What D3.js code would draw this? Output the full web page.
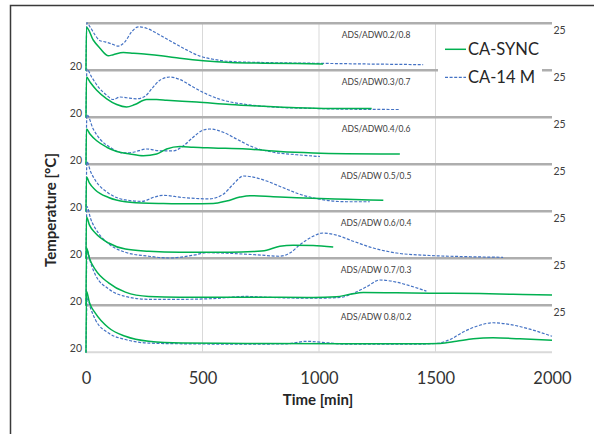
<!DOCTYPE html>
<html>
<head>
<meta charset="utf-8">
<script src="https://cdn.jsdelivr.net/npm/d3@7"></script>
<style>
  body { margin: 0; background: #fff; }
  svg { display: block; font-family: Lato, Calibri, sans-serif; }
</style>
</head>
<body>
<script>
// values: [time min, temperature °C]
const labels = ["ADS/ADW0.2/0.8", "ADS/ADW0.3/0.7", "ADS/ADW0.4/0.6", "ADS/ADW 0.5/0.5",
                "ADS/ADW 0.6/0.4", "ADS/ADW 0.7/0.3", "ADS/ADW 0.8/0.2"];
const xTicks = [0, 500, 1000, 1500, 2000];
const seriesNames = ["CA-SYNC", "CA-14 M"];

const sync1 = [[0,19.3],[2,25.4],[31,23.6],[60,22.45],[96,21.4],[117,21.55],[160,21.85],[203,21.75],[260,21.6],[332,21.35],[403,21.05],[503,20.7],[618,20.45],[761,20.35],[904,20.3],[1018,20.25]];
const cm1 = [[0,19.3],[4,26.0],[17,25.45],[39,24.3],[60,23.5],[82,23.35],[110,23.05],[139,22.75],[167,23.35],[196,24.75],[225,25.45],[260,25.25],[303,24.55],[360,23.5],[418,22.45],[489,21.35],[546,20.9],[618,20.6],[761,20.45],[975,20.35],[1190,20.25],[1447,20.15]];

const sync2 = [[0,19.3],[2,25.0],[17,24.3],[46,23.15],[89,21.95],[132,21.15],[174,20.8],[210,21.15],[260,21.85],[303,21.85],[346,21.75],[475,21.5],[618,21.15],[761,20.9],[904,20.7],[1047,20.6],[1226,20.6]];
const cm2 = [[0,19.3],[4,26.1],[24,25.0],[53,23.6],[89,22.45],[117,21.85],[146,22.2],[174,22.1],[217,21.95],[253,22.3],[282,23.35],[317,24.55],[360,25.0],[403,24.65],[460,23.6],[518,22.6],[589,21.75],[689,21.15],[832,20.75],[975,20.6],[1118,20.5],[1347,20.45]];

const sync3 = [[0,19.3],[2,24.3],[17,23.6],[46,22.65],[89,21.75],[132,21.15],[189,20.8],[246,20.55],[303,20.8],[346,21.5],[403,21.85],[460,21.75],[546,21.65],[689,21.5],[832,21.15],[975,20.95],[1118,20.85],[1347,20.8]];
const cm3 = [[0,19.3],[4,26.3],[31,24.3],[60,22.9],[103,21.75],[160,20.95],[203,21.05],[260,21.5],[317,21.25],[375,21.25],[418,21.95],[460,23.15],[503,24.15],[532,24.3],[589,23.85],[646,22.9],[718,21.75],[804,21.05],[904,20.7],[1004,20.45]];

const sync4 = [[0,19.3],[2,24.15],[15,23.3],[40,22.35],[97,21.3],[169,20.7],[269,20.48],[332,20.45],[446,20.4],[546,20.45],[603,20.8],[661,21.35],[704,21.55],[804,21.4],[904,21.25],[1004,21.15],[1118,21.05],[1276,20.9]];
const cm4 = [[0,19.3],[4,26.3],[20,24.9],[40,23.7],[97,21.9],[169,20.95],[240,20.75],[289,21.3],[330,21.6],[412,21.3],[528,21.1],[589,21.75],[632,23.15],[675,24.3],[718,24.15],[775,23.6],[847,22.65],[918,21.75],[1004,21.05],[1118,20.7],[1218,20.7]];

const sync5 = [[0,19.3],[2,25.15],[15,24.0],[40,22.9],[97,21.5],[169,20.65],[269,20.35],[403,20.2],[618,20.2],[718,20.3],[775,20.5],[832,21.05],[889,21.2],[975,21.15],[1061,20.95]];
const cm5 = [[0,19.3],[4,26.6],[20,24.9],[53,22.9],[97,21.4],[169,20.2],[269,19.65],[355,19.4],[469,19.85],[518,20.15],[618,20.05],[732,19.85],[832,19.65],[875,20.1],[918,21.25],[975,22.45],[1018,22.9],[1075,22.6],[1147,21.75],[1233,20.8],[1333,20.1],[1476,19.75],[1619,19.6],[1790,19.5]];

const sync6 = [[0,19.3],[2,27.4],[15,25.9],[40,24.35],[97,22.5],[169,21.2],[269,20.6],[403,20.5],[689,20.5],[975,20.45],[1075,20.55],[1133,20.9],[1190,21.15],[1333,21.1],[1476,21.05],[1690,21.0],[1833,20.9],[2000,20.8]];
const cm6 = [[0,19.3],[5,27.0],[20,25.3],[40,23.65],[97,21.65],[169,20.6],[269,20.2],[403,20.2],[546,20.3],[689,20.6],[804,20.45],[975,20.35],[1090,20.45],[1147,21.05],[1204,21.95],[1261,22.9],[1333,22.6],[1404,21.95],[1461,21.35]];

const sync7 = [[0,19.3],[2,27.9],[15,26.3],[40,24.85],[97,22.8],[169,21.6],[269,20.9],[412,20.65],[689,20.6],[1118,20.55],[1404,20.55],[1519,20.6],[1590,20.9],[1662,21.25],[1747,21.4],[1862,21.25],[2000,21.05]];
const cm7 = [[0,19.3],[5,27.0],[20,25.5],[40,23.95],[97,22.05],[169,21.15],[269,20.65],[412,20.55],[689,20.5],[861,20.55],[947,20.9],[1032,20.7],[1118,20.5],[1404,20.5],[1504,20.6],[1562,21.15],[1619,22.2],[1690,23.15],[1747,23.5],[1819,23.25],[1905,22.6],[2000,21.6]];

const syncAll = [sync1, sync2, sync3, sync4, sync5, sync6, sync7];
const cmAll = [cm1, cm2, cm3, cm4, cm5, cm6, cm7];

const width = 594, height = 434;
const top0 = 23.3, panelH = 47;
const green = "#00b050", blue = "#4472c4";
const font = "Lato, Calibri, sans-serif";

const svg = d3.select("body").append("svg")
    .attr("width", width).attr("height", height);

// outer frame
svg.append("rect")
    .attr("x", 10.5).attr("y", 5.5)
    .attr("width", 620).attr("height", 460)
    .attr("fill", "none").attr("stroke", "#3a3a3a").attr("stroke-width", 1.5);

const x = d3.scaleLinear().domain([0, 2000]).range([86, 552]);
const bottom = top0 + panelH * labels.length;

// vertical gridlines
svg.append("g").selectAll("line")
  .data(xTicks.filter(d => d > 0 && d < 2000))
  .join("line")
    .attr("x1", d => x(d)).attr("x2", d => x(d))
    .attr("y1", top0).attr("y2", bottom)
    .attr("stroke", "#d9d9d9").attr("stroke-width", 1);

// bottom axis line
svg.append("line")
    .attr("x1", x(0)).attr("x2", x(2000))
    .attr("y1", bottom).attr("y2", bottom)
    .attr("stroke", "#d9d9d9").attr("stroke-width", 2);

// panel separators
svg.append("g").selectAll("line")
  .data(d3.range(labels.length))
  .join("line")
    .attr("x1", x(0)).attr("x2", x(2000))
    .attr("y1", i => top0 + i * panelH).attr("y2", i => top0 + i * panelH)
    .attr("stroke", "#aeaeae").attr("stroke-width", 2.6);

labels.forEach((lab, i) => {
  const t = top0 + i * panelH;
  const y = d3.scaleLinear().domain([19.36, 25.94]).range([t + panelH, t]);
  const g = svg.append("g");

  g.append("g")
      .attr("transform", `translate(${x(0)},0)`)
      .call(d3.axisLeft(y).tickValues([20]).tickFormat(d3.format("d")).tickSize(0).tickPadding(4))
      .call(a => a.select(".domain").remove())
      .selectAll("text").attr("font-size", 10.5).attr("fill", "#404040")
      .attr("font-family", font);

  g.append("g")
      .attr("transform", `translate(${x(2000)},0)`)
      .call(d3.axisRight(y).tickValues([25]).tickFormat(d3.format("d")).tickSize(0).tickPadding(1.5))
      .call(a => a.select(".domain").remove())
      .selectAll("text").attr("font-size", 10.5).attr("fill", "#404040")
      .attr("font-family", font);

  g.append("text")
      .attr("x", x(1245)).attr("y", t + 15)
      .attr("text-anchor", "middle")
      .attr("font-size", 8.5).attr("fill", "#404040")
      .text(lab);

  const line = d3.line()
      .x(d => x(d[0])).y(d => y(d[1]))
      .curve(d3.curveMonotoneX);

  g.append("path")
      .datum(cmAll[i])
      .attr("d", line)
      .attr("fill", "none").attr("stroke", blue)
      .attr("stroke-width", 1.2).attr("stroke-dasharray", "3,1.6");

  g.append("path")
      .datum(syncAll[i])
      .attr("d", line)
      .attr("fill", "none").attr("stroke", green)
      .attr("stroke-width", 1.5);
});

// x axis
svg.append("g")
    .attr("transform", `translate(0,${bottom})`)
    .call(d3.axisBottom(x).tickValues(xTicks).tickFormat(d3.format("d")).tickSize(0).tickPadding(20))
    .call(a => a.select(".domain").remove())
    .selectAll("text").attr("font-size", 16.5).attr("fill", "#333")
    .attr("font-family", font);

svg.append("text")
    .attr("x", 318).attr("y", 405)
    .attr("text-anchor", "middle")
    .attr("font-size", 15).attr("font-weight", "bold").attr("fill", "#262626")
    .text("Time [min]");

svg.append("text")
    .attr("transform", "translate(56,210) rotate(-90)")
    .attr("text-anchor", "middle")
    .attr("font-size", 15).attr("font-weight", "bold").attr("fill", "#262626")
    .text("Temperature [°C]");

// legend
const leg = svg.append("g");
leg.append("rect")
    .attr("x", 438).attr("y", 36).attr("width", 104).attr("height", 54)
    .attr("fill", "#fff");
seriesNames.forEach((name, i) => {
  const ly = 49.3 + i * 28;
  leg.append("line")
      .attr("x1", 445).attr("x2", 466).attr("y1", ly).attr("y2", ly)
      .attr("stroke", i === 0 ? green : blue)
      .attr("stroke-width", i === 0 ? 1.5 : 1.2)
      .attr("stroke-dasharray", i === 0 ? null : "3,1.6");
  leg.append("text")
      .attr("x", 468).attr("y", ly + 6)
      .attr("font-size", 16.5).attr("fill", "#262626")
      .text(name);
});
</script>
</body>
</html>
